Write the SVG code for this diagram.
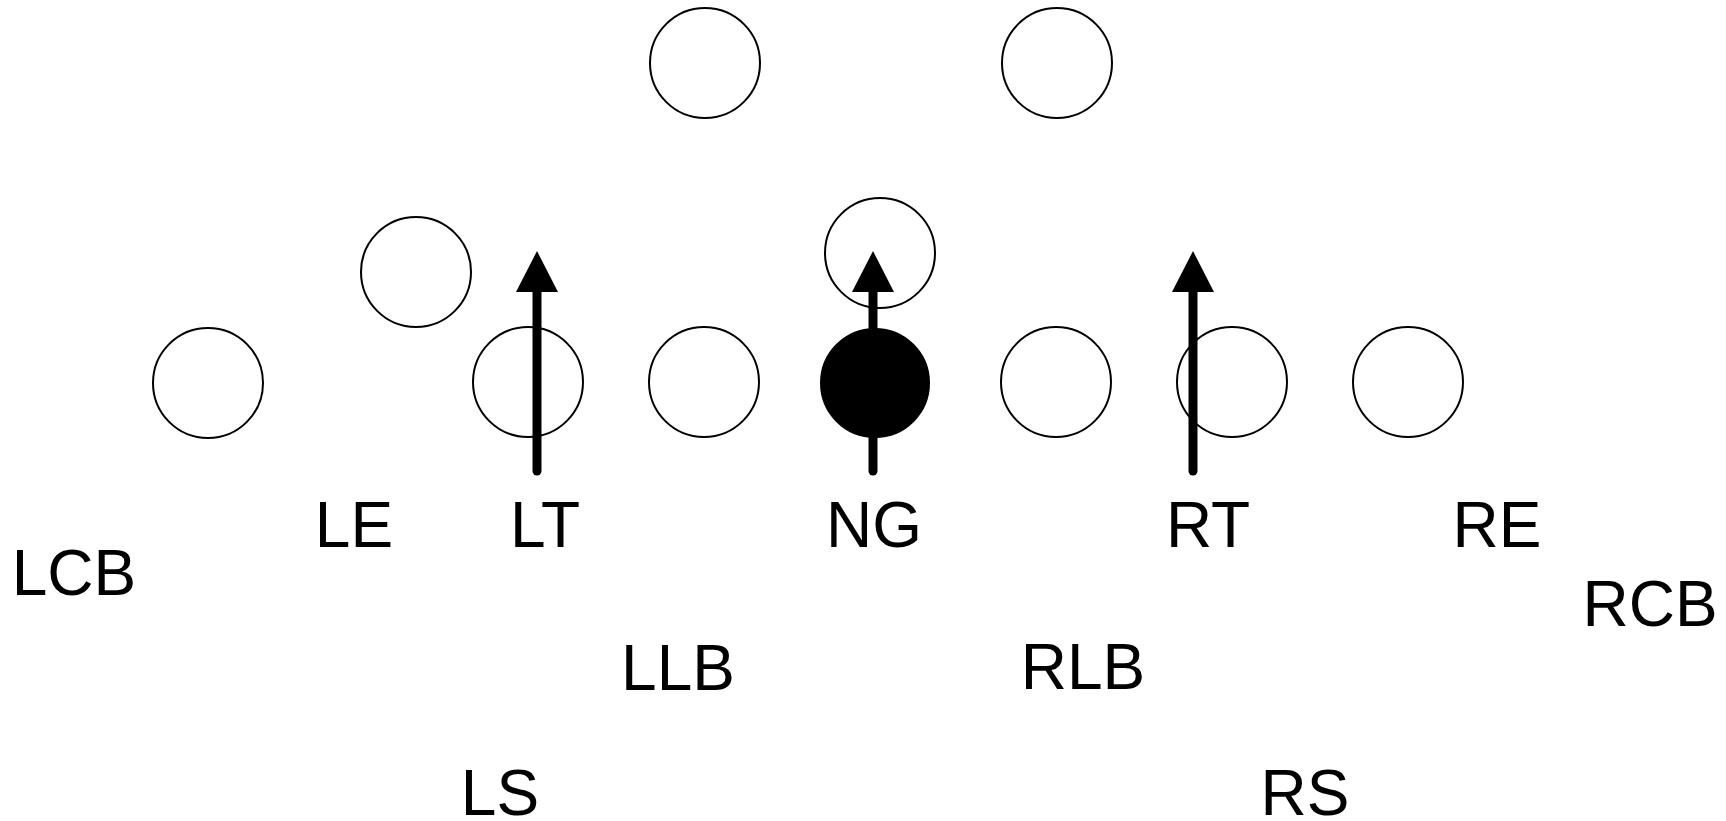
<svg xmlns="http://www.w3.org/2000/svg" width="1726" height="821" viewBox="0 0 1726 821">
<style>
.p{fill:#fff;stroke:#000;stroke-width:2}
.f{fill:#000;stroke:#000;stroke-width:2}
.lbl{font-family:"Liberation Sans",Arial,sans-serif;font-size:64px;fill:#000;text-anchor:middle}
.shaft{stroke:#000;stroke-width:9;stroke-linecap:round;fill:none}
.head{fill:#000}
</style>
<rect width="1726" height="821" fill="#fff"/>
<g id="players">
<g id="p-top-left"><circle class="p" cx="705" cy="63" r="55"/></g>
<g id="p-top-right"><circle class="p" cx="1057" cy="63" r="55"/></g>
<g id="p-wing"><circle class="p" cx="416" cy="272" r="55"/></g>
<g id="p-qb"><circle class="p" cx="880" cy="253" r="55"/></g>
<g id="p-split"><circle class="p" cx="208" cy="383" r="55"/></g>
<g id="p-lt"><circle class="p" cx="528" cy="382" r="55"/></g>
<g id="p-lg"><circle class="p" cx="704" cy="382" r="55"/></g>
<g id="p-center"><circle class="f" cx="875" cy="383" r="54"/></g>
<g id="p-rg"><circle class="p" cx="1056" cy="382" r="55"/></g>
<g id="p-rt"><circle class="p" cx="1232" cy="382" r="55"/></g>
<g id="p-te"><circle class="p" cx="1408" cy="382" r="55"/></g>
</g>
<g id="connectors">
<line class="shaft" x1="537" y1="471" x2="537" y2="285"/>
<polygon class="head" points="537,251 516,292 558,292"/>
<line class="shaft" x1="873" y1="471" x2="873" y2="285"/>
<polygon class="head" points="873,251 852,292 894,292"/>
<line class="shaft" x1="1193" y1="471" x2="1193" y2="285"/>
<polygon class="head" points="1193,251 1172,292 1214,292"/>
</g>
<g id="labels">
<g id="l-lcb"><text class="lbl" x="74" y="595">LCB</text></g>
<g id="l-le"><text class="lbl" x="354" y="547">LE</text></g>
<g id="l-lt"><text class="lbl" x="545" y="547">LT</text></g>
<g id="l-ng"><text class="lbl" x="874" y="547">NG</text></g>
<g id="l-rt"><text class="lbl" x="1208" y="547">RT</text></g>
<g id="l-re"><text class="lbl" x="1497" y="547">RE</text></g>
<g id="l-rcb"><text class="lbl" x="1650" y="626">RCB</text></g>
<g id="l-llb"><text class="lbl" x="678" y="690">LLB</text></g>
<g id="l-rlb"><text class="lbl" x="1083" y="689">RLB</text></g>
<g id="l-ls"><text class="lbl" x="500" y="815">LS</text></g>
<g id="l-rs"><text class="lbl" x="1305" y="815">RS</text></g>
</g>
</svg>
